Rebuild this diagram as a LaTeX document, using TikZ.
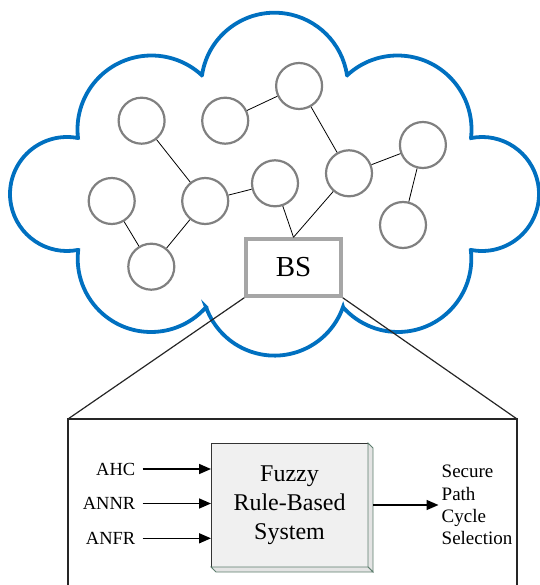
\documentclass[tikz,border=0pt]{standalone}
\usepackage{fontspec}
\setmainfont{Liberation Serif}
\usetikzlibrary{arrows.meta,calc}
\definecolor{cloudblue}{HTML}{0070C0}
\definecolor{nodegray}{HTML}{808080}
\definecolor{bsgray}{HTML}{A6A6A6}
\definecolor{boxfill}{HTML}{F0F0F0}
\definecolor{faceedge}{HTML}{5E7E6E}
\definecolor{facefill}{HTML}{E4E4E4}
\begin{document}
\begin{tikzpicture}[x=1pt,y=-1pt,
  cloud/.style={draw=cloudblue,line width=3.8pt},
  sensor/.style={circle,draw=nodegray,line width=2.2pt,minimum size=46pt,inner sep=0pt},
  link/.style={draw=black,line width=0.8pt},
  bsbox/.style={draw=bsgray,fill=white,line width=3.5pt,minimum width=95pt,minimum height=57pt,inner sep=0pt,font=\fontsize{29}{30}\selectfont},
  frame/.style={draw=black!85,line width=1.2pt},
  fuzzybox/.style={draw=black!80,fill=boxfill,line width=0.8pt,minimum width=157pt,minimum height=124pt,inner sep=0pt,outer sep=0pt,align=center,font=\fontsize{24}{29}\selectfont},
  face/.style={draw=faceedge,fill=facefill,line width=0.8pt},
  inlbl/.style={inner sep=0pt,anchor=east,font=\fontsize{18.5}{22}\selectfont},
  outlbl/.style={inner sep=0pt,anchor=west,align=left,font=\fontsize{19}{22.4}\selectfont},
  arr/.style={draw=black,line width=1.6pt,-{Triangle[length=12pt,width=10pt]}}
]
\useasboundingbox (0,0) rectangle (539,585);

% cloud
\draw[cloud] ([shift={(79:57)}]67,194) arc[start angle=79,end angle=281,radius=57]
 -- ([shift={(173.4:74)}]151.5,129.5) arc[start angle=173.4,end angle=312.8,radius=74]
 -- ([shift={(188.6:73.3)}]274.5,86) arc[start angle=188.6,end angle=351.4,radius=73.3]
 -- ([shift={(227.2:74)}]397.5,129.5) arc[start angle=227.2,end angle=366.6,radius=74]
 -- ([shift={(258.9:57)}]482,194) arc[start angle=258.9,end angle=461.1,radius=57]
 -- ([shift={(-6.8:73.3)}]398,258.7) arc[start angle=-6.8,end angle=138.5,radius=73.3]
 -- ([shift={(19.3:72.6)}]274.5,283) arc[start angle=19.3,end angle=160.7,radius=72.6]
 -- ([shift={(41.3:73.3)}]151,258.7) arc[start angle=41.3,end angle=186.8,radius=73.3]
 -- cycle;

% sensor nodes
\node[sensor] (n1) at (141.6,120.7) {};
\node[sensor] (n2) at (225.2,120.7) {};
\node[sensor] (n3) at (299.1,86) {};
\node[sensor] (n4) at (111.7,201) {};
\node[sensor] (n5) at (205.2,201) {};
\node[sensor] (n6) at (275,183.3) {};
\node[sensor] (n7) at (349,173.3) {};
\node[sensor] (n8) at (422.9,145) {};
\node[sensor] (n9) at (151.3,266.7) {};
\node[sensor] (n10) at (403,225) {};

% frame of the zoomed view
\coordinate (tl) at (68,419);
\coordinate (tr) at (517,419);
\coordinate (bl) at (68,585);
\coordinate (br) at (517,585);

% base station
\node[bsbox] (bs) at (293.5,267.5) {BS};

\draw[link] (n1) -- (n5);
\draw[link] (n2) -- (n3);
\draw[link] (n3) -- (n7);
\draw[link] (n5) -- (n6);
\draw[link] (n4) -- (n9);
\draw[link] (n9) -- (n5);
\draw[link] (n7) -- (n8);
\draw[link] (n8) -- (n10);
\draw[link] (n6) -- (bs.north);
\draw[link] (n7) -- (bs.north);

\draw[frame] (bs.south west) -- (tl);
\draw[frame] (bs.south east) -- (tr);
\draw[frame] (bl) -- (tl) -- (tr) -- (br);

% fuzzy system
\node[fuzzybox] (frbs) at (289.5,505) {Fuzzy\\Rule-Based\\System};
\draw[face] (frbs.north east) -- ($(frbs.north east)+(5,5)$) -- ($(frbs.south east)+(5,5)$) -- (frbs.south east) -- cycle;
\draw[face] (frbs.south west) -- ($(frbs.south west)+(5,5)$) -- ($(frbs.south east)+(5,5)$) -- (frbs.south east) -- cycle;

\node[inlbl] (ahc) at (135.5,469) {AHC};
\node[inlbl] (annr) at (135.5,503.5) {ANNR};
\node[inlbl] (anfr) at (135.5,538.3) {ANFR};
\draw[arr,shorten <=7pt] (ahc) -- (ahc -| frbs.west);
\draw[arr,shorten <=7pt] (annr) -- (annr -| frbs.west);
\draw[arr,shorten <=7pt] (anfr) -- (anfr -| frbs.west);

\node[outlbl] (out) at (441.5,505) {Secure\\Path\\Cycle\\Selection};
\draw[arr,shorten >=3pt] ($(frbs.east)+(5,0)$) -- (out.west);
\end{tikzpicture}
\end{document}
